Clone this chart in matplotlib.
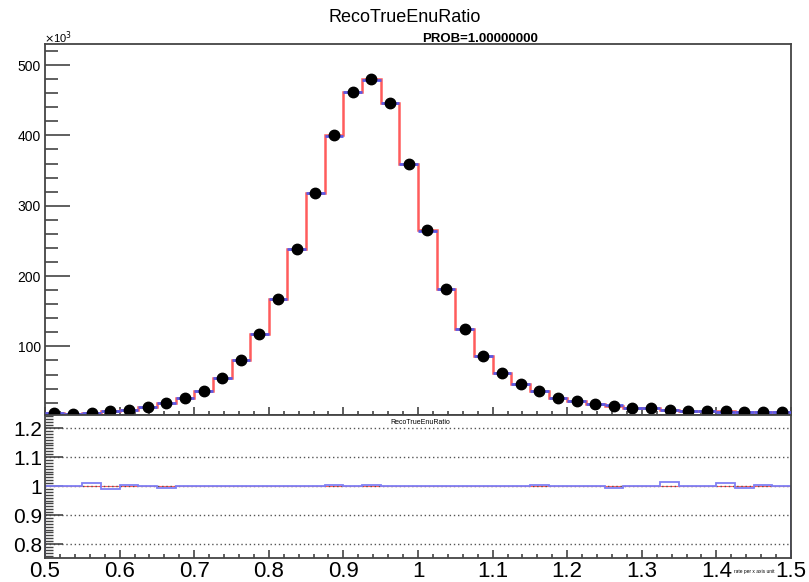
import numpy as np
import matplotlib.pyplot as plt
from matplotlib.ticker import MultipleLocator

plt.rcParams['font.family'] = ['Liberation Sans', 'DejaVu Sans']

# 40 bins between 0.5 and 1.5
bin_edges = np.linspace(0.5, 1.5, 41)

# red histogram (x10^3 entries per bin)
mc_counts = [5, 3.5, 6, 8, 9.5, 13.5, 19, 27, 36, 55,
             81, 118, 168, 239, 318, 400, 462, 480, 446, 360,
             265, 182, 125, 87, 62, 46, 36, 27, 23, 18,
             16, 12, 12, 9.5, 8, 8, 7.5, 7, 7, 7]

# black points
data_counts = [5, 3.5, 6, 8, 9.5, 13.5, 19, 27, 36, 55,
               81, 118, 168, 239, 318, 400, 462, 480, 446, 360,
               265, 182, 125, 87, 62, 46, 36, 27, 23, 18,
               16, 12, 12, 9.5, 8, 8, 7.5, 7, 7, 7]

# ratio shown in the lower pad
ratio = [1.0, 1.0, 1.01, 0.991, 1.005, 1.0, 0.994, 1.0, 1.0, 1.0,
         1.0, 1.0, 1.0, 1.0, 1.0, 1.003, 1.0, 1.003, 1.0, 1.0,
         1.001, 1.001, 1.001, 1.001, 1.001, 1.0, 1.002, 1.0, 1.0, 1.0,
         0.993, 1.0, 1.0, 1.015, 1.0, 1.0, 1.01, 0.993, 1.003, 1.0]

blue_counts = np.array(mc_counts) / np.array(ratio)
centers = 0.5 * (bin_edges[:-1] + bin_edges[1:])

frame_col = '#444444'

fig = plt.figure(figsize=(8.09, 5.82), dpi=100)
ax1 = fig.add_axes([45/809, 1-415/582, 746/809, 371/582])
ax2 = fig.add_axes([45/809, 1-558/582, 746/809, 143/582])

# top pad: red full histogram, blue drawn as horizontal bars on top
ax1.stairs(mc_counts, bin_edges, color='#ff5c5c', lw=1.8, zorder=2)
ax1.hlines(blue_counts, bin_edges[:-1], bin_edges[1:], color='#5a5ae6', lw=2.0, zorder=3)
ax1.plot(centers, data_counts, 'o', color='black', ms=7.5, zorder=4)
ax1.set_xlim(0.5, 1.5)
ax1.set_ylim(2.5, 530)
ax1.yaxis.set_major_locator(MultipleLocator(100))
ax1.yaxis.set_minor_locator(MultipleLocator(20))
ax1.xaxis.set_major_locator(MultipleLocator(0.1))
ax1.xaxis.set_minor_locator(MultipleLocator(0.02))
ax1.tick_params(axis='y', which='major', direction='in', length=18, width=1.2,
                color=frame_col, labelsize=10, pad=3)
ax1.tick_params(axis='y', which='minor', direction='in', length=9, width=1.2, color=frame_col)
ax1.tick_params(axis='x', which='major', direction='in', length=6, width=1.2,
                color=frame_col, labelbottom=False)
ax1.tick_params(axis='x', which='minor', direction='in', length=3, width=1.2, color=frame_col)
ax1.set_yticks([100, 200, 300, 400, 500])
for s in ax1.spines.values():
    s.set_color(frame_col)
    s.set_linewidth(1.3)

fig.text(405/809, 1-18/582, 'RecoTrueEnuRatio', ha='center', va='center', fontsize=13)
fig.text(480/809, 1-39/582, 'PROB=1.00000000', ha='center', va='center',
         fontsize=9.5, fontweight='bold')
fig.text(44/809, 1-38/582, r'$\times$10$^3$', ha='left', va='center', fontsize=8)

# bottom pad
for yv in [0.8, 0.9, 1.0, 1.1, 1.2]:
    ax2.axhline(yv, color='#555555', lw=1.0, ls=(0, (1, 2)), zorder=1)
ax2.axhline(1.0, color='#ff5c5c', lw=0.8, zorder=0)
ax2.stairs(ratio, bin_edges, color='#8080f5', lw=1.3, zorder=2)
ax2.set_xlim(0.5, 1.5)
ax2.set_ylim(0.752, 1.245)
ax2.xaxis.set_major_locator(MultipleLocator(0.1))
ax2.xaxis.set_minor_locator(MultipleLocator(0.02))
ax2.yaxis.set_major_locator(MultipleLocator(0.1))
ax2.yaxis.set_minor_locator(MultipleLocator(0.01))
ax2.set_xticks([0.5, 0.6, 0.7, 0.8, 0.9, 1.0, 1.1, 1.2, 1.3, 1.4, 1.5])
ax2.set_xticklabels(['0.5', '0.6', '0.7', '0.8', '0.9', '1', '1.1', '1.2', '1.3', '1.4', '1.5'])
ax2.set_yticks([0.8, 0.9, 1.0, 1.1, 1.2])
ax2.set_yticklabels(['0.8', '0.9', '1', '1.1', '1.2'])
ax2.tick_params(axis='y', which='major', direction='in', length=13, width=1.2,
                color=frame_col, labelsize=15, pad=2)
ax2.tick_params(axis='y', which='minor', direction='in', length=6, width=1.0, color=frame_col)
ax2.tick_params(axis='x', which='major', direction='in', length=6, width=1.2,
                color=frame_col, labelsize=16, pad=2)
ax2.tick_params(axis='x', which='minor', direction='in', length=3, width=1.2, color=frame_col)
for s in ax2.spines.values():
    s.set_color(frame_col)
    s.set_linewidth(1.3)

fig.text(420/809, 1-422/582, 'RecoTrueEnuRatio', ha='center', va='center', fontsize=5)
fig.text(775/809, 1-572/582, 'rate per x axis unit', ha='right', va='center', fontsize=3.5)

plt.savefig('out.png', dpi=100)
